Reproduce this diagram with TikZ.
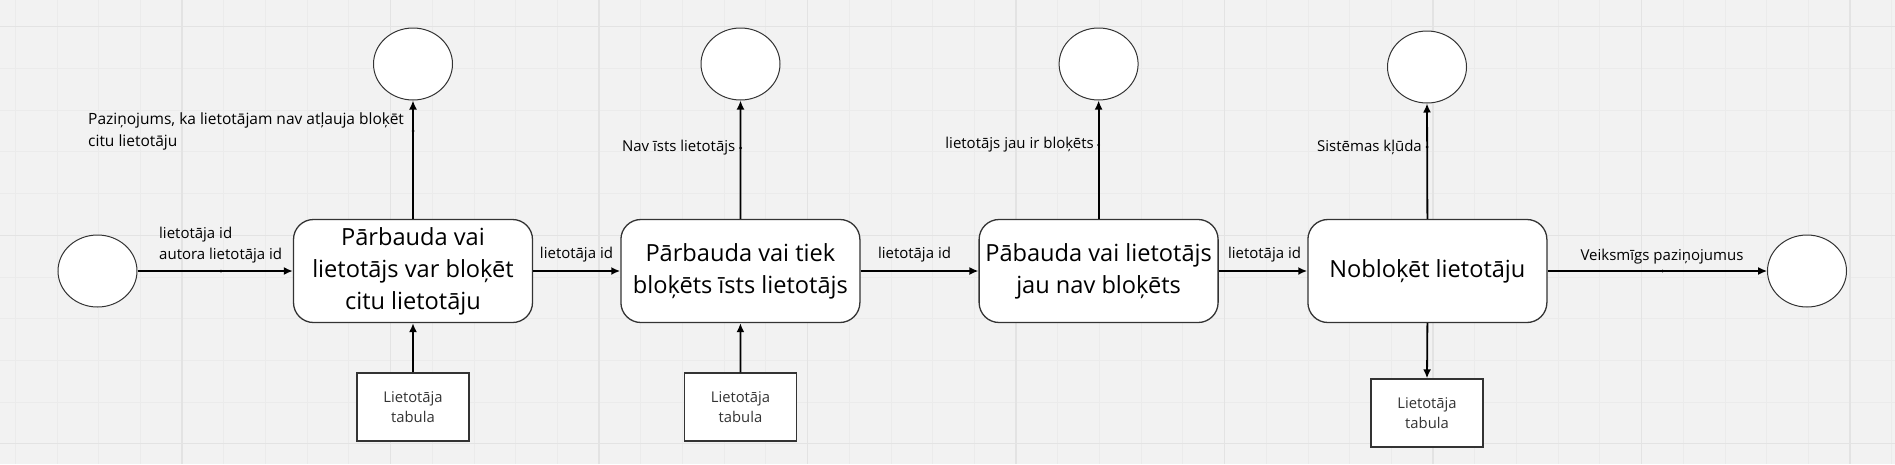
\documentclass[tikz,border=0pt]{standalone}
\usepackage{fontspec}
\setmainfont{Open Sans}
\usetikzlibrary{shapes.geometric,arrows.meta}
\definecolor{bg}{HTML}{F2F2F2}
\definecolor{gminor}{HTML}{EBEBEB}
\definecolor{gmajor}{HTML}{E3E3E3}
\definecolor{edgec}{HTML}{333333}
\begin{document}
\begin{tikzpicture}[x=1pt,y=-1pt,
 proc/.style={draw=edgec, line width=1.3pt, fill=white, rounded corners=20pt, minimum width=239pt, minimum height=103pt, align=center, font=\fontsize{23.6}{32}\selectfont, inner sep=0pt},
 term/.style={draw=edgec, line width=1pt, fill=white, ellipse, minimum width=79pt, minimum height=72pt, inner sep=0pt},
 store/.style={draw=edgec, line width=1.3pt, fill=white, minimum width=112pt, minimum height=68pt, align=center, text=edgec, font=\fontsize{14.8}{20.7}\selectfont, inner sep=0pt},
 flow/.style={line width=1.8pt, -{Latex[length=9pt,width=8pt]}},
 lbl/.style={font=\fontsize{15}{21}\selectfont, inner sep=0pt},
 biglbl/.style={font=\fontsize{15.5}{22}\selectfont, inner sep=0pt, anchor=base west},
 anchordot/.style={circle, fill=black, inner sep=0pt, minimum size=3pt}
]
\fill[bg] (0,0) rectangle (1895,464);
\useasboundingbox (0,0) rectangle (1895,464);
% grid
\foreach \i in {0,...,45} \draw[gminor, line width=0.8pt] ({15.2+41.7*\i},0) -- ({15.2+41.7*\i},464);
\foreach \j in {0,...,10} \draw[gminor, line width=0.8pt] (0,{26.7+41.7*\j}) -- (1895,{26.7+41.7*\j});
\foreach \i in {0,...,8} \draw[gmajor, line width=1.2pt] ({182+208.5*\i},0) -- ({182+208.5*\i},464);
\foreach \j in {0,1,2} \draw[gmajor, line width=1.2pt] (0,{26.7+208.5*\j}) -- (1895,{26.7+208.5*\j});

% terminators
\node[term] (src) at (97.5,271) {};
\node[term] (o1) at (413,64) {};
\node[term] (o2) at (740.5,64) {};
\node[term] (o3) at (1098.6,64) {};
\node[term] (o4) at (1427,67) {};
\node[term] (dst) at (1807,271) {};

% processes
\node[proc] (p1) at (413,271) {Pārbauda vai\\lietotājs var bloķēt\\citu lietotāju};
\node[proc] (p2) at (740.4,271) {Pārbauda vai tiek\\bloķēts īsts lietotājs};
\node[proc] (p3) at (1098.6,271) {Pābauda vai lietotājs\\jau nav bloķēts};
\node[proc] (p4) at (1427.4,271) {Nobloķēt lietotāju};

% stores
\node[store] (d1) at (413,407) {Lietotāja\\tabula};
\node[store] (d2) at (740.5,407) {Lietotāja\\tabula};
\node[store] (d4) at (1427,413) {Lietotāja\\tabula};

% flows
\draw[flow] (src.east) -- (p1.west);
\draw[flow] (p1.east) -- (p2.west);
\draw[flow] (p2.east) -- (p3.west);
\draw[flow] (p3.east) -- (p4.west);
\draw[flow, line width=1.3pt] (p4.east) -- (dst.west);
\draw[flow] (p1.north) -- (o1.south);
\draw[flow] (p2.north) -- (o2.south);
\draw[flow] (p3.north) -- (o3.south);
\draw[flow] (p4.north) -- (o4.south);
\draw[flow] (d1.north) -- (p1.south);
\draw[flow] (d2.north) -- (p2.south);
\draw[flow] (p4.south) -- (d4.north);

% labels
\node[lbl, anchor=west, align=left] (l1) at (159,245.5) {lietotāja id\\autora lietotāja id};
\node[anchordot] (m1) at (221,271) {};
\node[biglbl] (l2a) at (88,124.5) {Paziņojums, ka lietotājam nav atļauja bloķēt};
\node[biglbl] (l2b) at ([yshift=-22pt]l2a.base west) {citu lietotāju};
\node[anchordot] (m2) at (413,131) {};
\node[lbl] (l3) at (576.5,255) {lietotāja id};
\node[lbl, anchor=east] (l4) at (735.5,148) {Nav īsts lietotājs};
\node[anchordot] (m4) at (740.5,148) {};
\node[lbl] (l5) at (914.5,255) {lietotāja id};
\node[lbl, anchor=east] (l6) at (1094,145) {lietotājs jau ir bloķēts};
\node[anchordot] (m6) at (1098.6,145) {};
\node[lbl] (l7) at (1264.5,255) {lietotāja id};
\node[lbl, anchor=east] (l8) at (1422,147) {Sistēmas kļūda};
\node[anchordot] (m8) at (1427,147) {};
\node[lbl] (l9) at (1662,257) {Veiksmīgs paziņojumus};
\node[anchordot] (m9) at (1662.5,271) {};
\end{tikzpicture}
\end{document}
